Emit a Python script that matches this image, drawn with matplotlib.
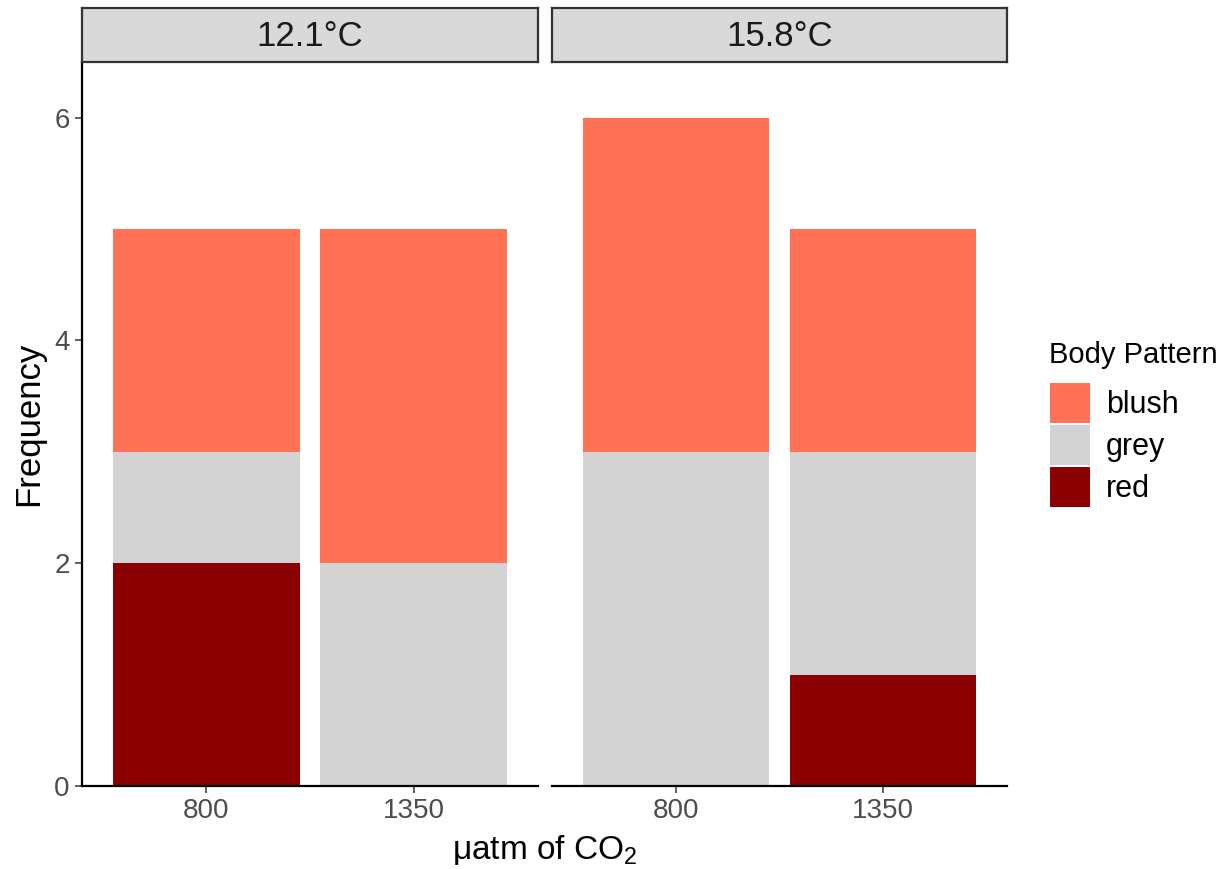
import matplotlib
matplotlib.use("Agg")
import matplotlib.pyplot as plt
from matplotlib.patches import Patch
import numpy as np

plt.rcParams['font.family'] = ['Liberation Sans', 'DejaVu Sans']
plt.rcParams['mathtext.fontset'] = 'custom'
plt.rcParams['mathtext.rm'] = 'Liberation Sans'
plt.rcParams['mathtext.it'] = 'Liberation Sans:italic'

# counts per body pattern, one list per temperature panel (co2 levels 800, 1350)
temps = ['12.1°C', '15.8°C']
co2_levels = ['800', '1350']
patterns = ['red', 'grey', 'blush']
counts = {
    '12.1°C': {'red': [2, 0], 'grey': [1, 2], 'blush': [2, 3]},
    '15.8°C': {'red': [0, 1], 'grey': [3, 2], 'blush': [3, 2]},
}
colors = {'blush': '#FF7256', 'grey': '#D3D3D3', 'red': '#8B0000'}

W, H = 1230, 869
fig = plt.figure(figsize=(W / 100, H / 100), dpi=100)

panels = [(82, 456), (552, 455)]
top, bottom = 62, 786
x = np.arange(1, len(co2_levels) + 1)

for i, (t, (px, pw)) in enumerate(zip(temps, panels)):
    ax = fig.add_axes([px / W, (H - bottom) / H, pw / W, (bottom - top) / H])
    base = np.zeros(len(co2_levels))
    for p in patterns:
        vals = np.array(counts[t][p], dtype=float)
        ax.bar(x, vals, width=0.9, bottom=base, color=colors[p], linewidth=0)
        base += vals
    ax.set_xlim(0.4, 2.6)
    ax.set_ylim(0, 6.5)
    ax.set_xticks(x)
    ax.set_xticklabels(co2_levels)
    for s in ['top', 'right']:
        ax.spines[s].set_visible(False)
    ax.spines['bottom'].set_linewidth(1.6)
    ax.spines['left'].set_linewidth(1.6)
    ax.tick_params(axis='both', labelsize=20, colors='#333333', labelcolor='#4D4D4D',
                   length=5, width=1.1, pad=4)
    if i == 0:
        ax.set_yticks([0, 2, 4, 6])
    else:
        ax.spines['left'].set_visible(False)
        ax.set_yticks([])

    # facet strip
    sax = fig.add_axes([px / W, (H - top) / H, pw / W, (top - 8) / H])
    sax.set_facecolor('#D9D9D9')
    sax.set_xticks([])
    sax.set_yticks([])
    for s in sax.spines.values():
        s.set_color('#333333')
        s.set_linewidth(1.6)
    sax.text(0.5, 0.47, t, ha='center', va='center', fontsize=25, color='#1A1A1A',
             transform=sax.transAxes)

fig.text(545 / W, 1 - 850 / H, 'μatm of CO$_2$', ha='center', va='center', fontsize=24)
fig.text(29 / W, 1 - 424 / H, 'Frequency', ha='center', va='center', fontsize=25,
         rotation=90)

# legend: title drawn separately so the key block can sit lower
fig.text(1049 / W, 1 - 355 / H, 'Body Pattern', ha='left', va='center', fontsize=21)
handles = [Patch(facecolor=colors[p], edgecolor='none') for p in ['blush', 'grey', 'red']]
leg = fig.legend(handles, ['blush', 'grey', 'red'],
                 loc='upper left', bbox_to_anchor=(1050 / W, 1 - 383 / H),
                 frameon=False, fontsize=22, borderpad=0, borderaxespad=0,
                 handlelength=1.31, handleheight=1.64, labelspacing=0.065,
                 handletextpad=0.52)

fig.savefig('out.png', dpi=100)
